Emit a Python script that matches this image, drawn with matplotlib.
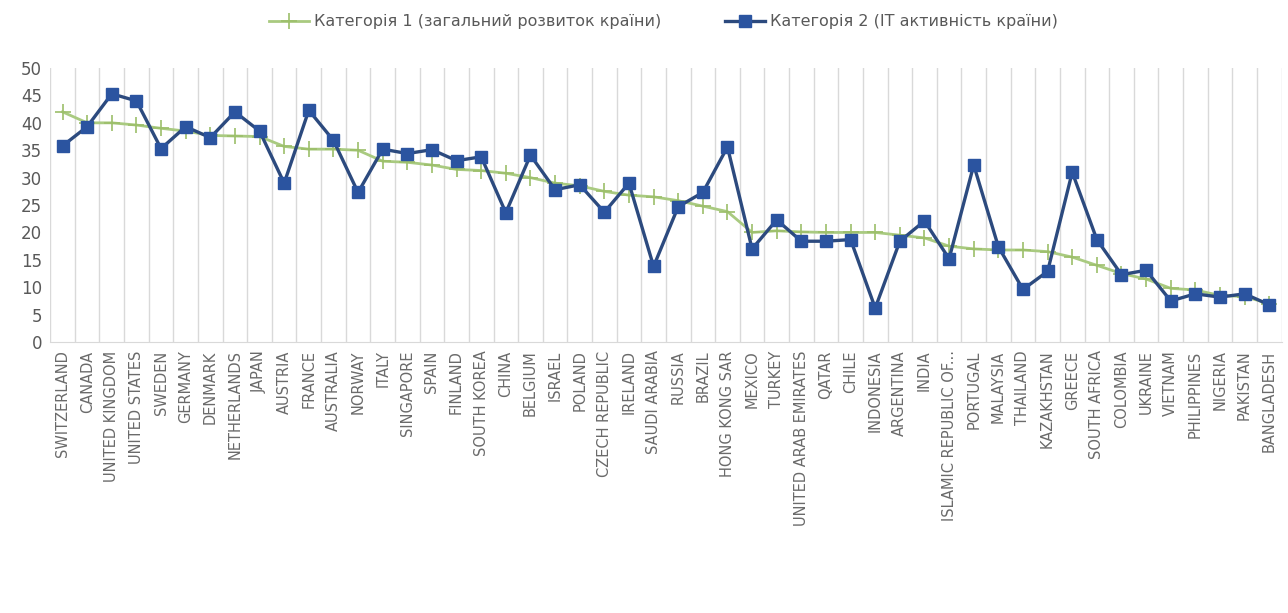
import matplotlib.pyplot as plt
import numpy as np

countries = ["SWITZERLAND", "CANADA", "UNITED KINGDOM", "UNITED STATES", "SWEDEN",
             "GERMANY", "DENMARK", "NETHERLANDS", "JAPAN", "AUSTRIA", "FRANCE",
             "AUSTRALIA", "NORWAY", "ITALY", "SINGAPORE", "SPAIN", "FINLAND",
             "SOUTH KOREA", "CHINA", "BELGIUM", "ISRAEL", "POLAND", "CZECH REPUBLIC",
             "IRELAND", "SAUDI ARABIA", "RUSSIA", "BRAZIL", "HONG KONG SAR", "MEXICO",
             "TURKEY", "UNITED ARAB EMIRATES", "QATAR", "CHILE", "INDONESIA",
             "ARGENTINA", "INDIA", "ISLAMIC REPUBLIC OF...", "PORTUGAL", "MALAYSIA",
             "THAILAND", "KAZAKHSTAN", "GREECE", "SOUTH AFRICA", "COLOMBIA", "UKRAINE",
             "VIETNAM", "PHILIPPINES", "NIGERIA", "PAKISTAN", "BANGLADESH"]

# категорія 1 - загальний розвиток
cat1 = [42.0, 40.0, 40.0, 39.6, 39.0, 38.5, 37.7, 37.6, 37.5, 35.7,
        35.2, 35.2, 35.0, 33.0, 32.8, 32.3, 31.5, 31.3, 30.8, 30.0,
        29.0, 28.5, 27.5, 26.8, 26.5, 25.8, 24.8, 23.8, 20.0, 20.3,
        20.1, 20.0, 20.0, 20.0, 19.5, 19.0, 17.5, 17.0, 16.8, 16.8,
        16.5, 15.5, 14.0, 12.5, 11.5, 9.8, 9.5, 8.5, 8.3, 7.0]

# категорія 2 - IT активність
cat2 = [35.8, 39.3, 45.3, 44.0, 35.3, 39.3, 37.3, 42.0, 38.5, 29.0,
        42.3, 36.8, 27.3, 35.2, 34.4, 35.1, 33.1, 33.8, 23.6, 34.1,
        27.8, 28.7, 23.7, 29.0, 13.8, 24.7, 27.3, 35.6, 17.0, 22.3,
        18.4, 18.4, 18.7, 6.2, 18.4, 22.1, 15.2, 32.3, 17.4, 9.6,
        12.9, 31.0, 18.7, 12.3, 13.1, 7.5, 8.8, 8.2, 8.8, 6.8]

x = np.arange(len(countries))

fig = plt.figure(figsize=(12.88, 6.13), dpi=100)
ax = fig.add_axes([0.039, 0.442, 0.956, 0.447])

ax.plot(x, cat1, color="#A9CA80", linewidth=2.0, marker="+", markersize=11,
        markeredgewidth=1.2, markeredgecolor="#9CBF6A",
        label="Категорія 1 (загальний розвиток країни)")
ax.plot(x, cat2, color="#2C4A7E", linewidth=2.4, marker="s", markersize=9,
        markerfacecolor="#2B54A0", markeredgecolor="#2B54A0",
        label="Категорія 2 (IT активність країни)")

ax.set_xlim(-0.5, len(countries) - 0.5)
ax.set_ylim(0, 50)
ax.set_yticks(np.arange(0, 51, 5))
ax.set_xticks(x)
ax.set_xticklabels(countries, rotation=90, fontsize=10.5, color="#6A6A6A")
ax.set_xticks(np.arange(-0.5, len(countries), 1), minor=True)
ax.tick_params(axis="x", which="both", length=0, pad=6)
ax.tick_params(axis="y", length=0, labelsize=12, labelcolor="#595959", pad=6)
ax.grid(True, axis="x", which="minor", color="#D9D9D9", linewidth=1)

for s in ["top", "right", "left"]:
    ax.spines[s].set_visible(False)
ax.spines["bottom"].set_color("#D9D9D9")

fig.legend(loc="upper center", bbox_to_anchor=(0.515, 1.0), ncol=2, frameon=False,
           fontsize=11.5, labelcolor="#595959", handlelength=2.5, handletextpad=0.3,
           columnspacing=4)

fig.savefig("out.png", dpi=100)
